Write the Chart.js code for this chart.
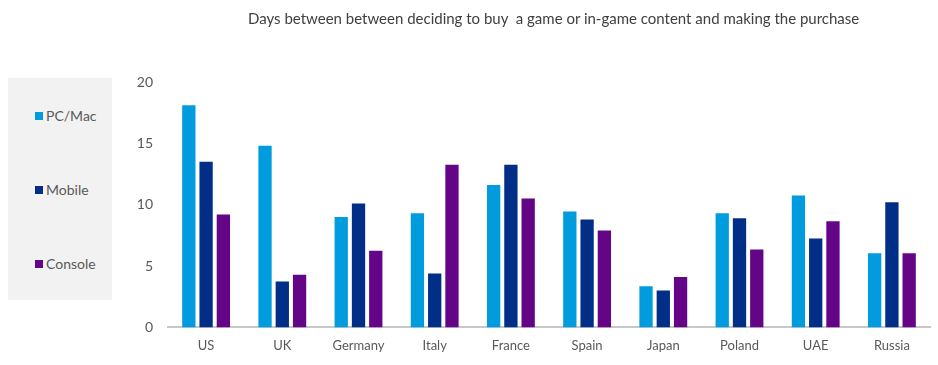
<!DOCTYPE html>
<html>
<head>
<meta charset="utf-8">
<script src="https://cdn.jsdelivr.net/npm/chart.js@4/dist/chart.umd.min.js"></script>
<style>
  body { margin: 0; background: #fff; }
  #wrap { position: relative; width: 938px; height: 365px; }
  #title {
    position: absolute; left: 248px; top: 9px; white-space: nowrap;
    font-family: Lato, sans-serif; font-size: 15px; color: #404040;
  }
  #legend {
    position: absolute; left: 8px; top: 78px; width: 104px; height: 222px;
    background: #f2f2f2; font-family: Lato, sans-serif; font-size: 14px; color: #595959;
  }
  .item { position: absolute; left: 27px; display: flex; align-items: center; }
  .item span.box { width: 8px; height: 8px; margin-right: 3px; display: inline-block; }
</style>
</head>
<body>
<div id="wrap">
  <canvas id="myChart" width="938" height="365"></canvas>
  <div id="title">Days between between deciding to buy&nbsp; a game or in-game content and making the purchase</div>
  <div id="legend"></div>
</div>
<script>
// データ
const countries = ['US', 'UK', 'Germany', 'Italy', 'France', 'Spain', 'Japan', 'Poland', 'UAE', 'Russia'];
const pcMac   = [18.1, 14.8, 9.0, 9.3, 11.6, 9.45, 3.35, 9.3, 10.75, 6.05];
const mobile  = [13.5, 3.75, 10.1, 4.4, 13.25, 8.8, 3.0, 8.9, 7.25, 10.2];
const console_ = [9.2, 4.3, 6.25, 13.25, 10.5, 7.9, 4.1, 6.35, 8.65, 6.05];
const yTicks = [0, 5, 10, 15, 20];
const seriesNames = ['PC/Mac', 'Mobile', 'Console'];
const seriesColors = ['#009cde', '#012f87', '#640487'];

const font = 'Lato, sans-serif';

const datasets = [pcMac, mobile, console_].map((d, i) => ({
    label: seriesNames[i],
    data: d,
    backgroundColor: seriesColors[i],
    categoryPercentage: 0.68,
    barPercentage: 0.77
}));

new Chart(document.getElementById('myChart'), {
    type: 'bar',
    data: { labels: countries, datasets },
    options: {
        responsive: false,
        animation: false,
        layout: { padding: { left: 120, right: 8, top: 82, bottom: 0 } },
        plugins: {
            legend: { display: false },
            tooltip: { enabled: false }
        },
        scales: {
            x: {
                grid: { display: false, drawTicks: false },
                border: { display: true, color: '#c8c8c8', width: 2 },
                ticks: { color: '#595959', font: { family: font, size: 13 }, padding: 11 }
            },
            y: {
                min: 0, max: 20,
                afterBuildTicks: s => { s.ticks = yTicks.map(v => ({ value: v })); },
                afterFit: s => { s.width = 48; },
                grid: { display: false, drawTicks: false },
                border: { display: false },
                ticks: { color: '#595959', font: { family: font, size: 14 }, padding: 15 }
            }
        }
    }
});

// 凡例
const legend = document.getElementById('legend');
const itemTops = [29, 103, 177];
seriesNames.forEach((name, i) => {
    const el = document.createElement('div');
    el.className = 'item';
    el.style.top = itemTops[i] + 'px';
    el.innerHTML = `<span class="box" style="background:${seriesColors[i]}"></span>${name}`;
    legend.appendChild(el);
});
</script>
</body>
</html>
